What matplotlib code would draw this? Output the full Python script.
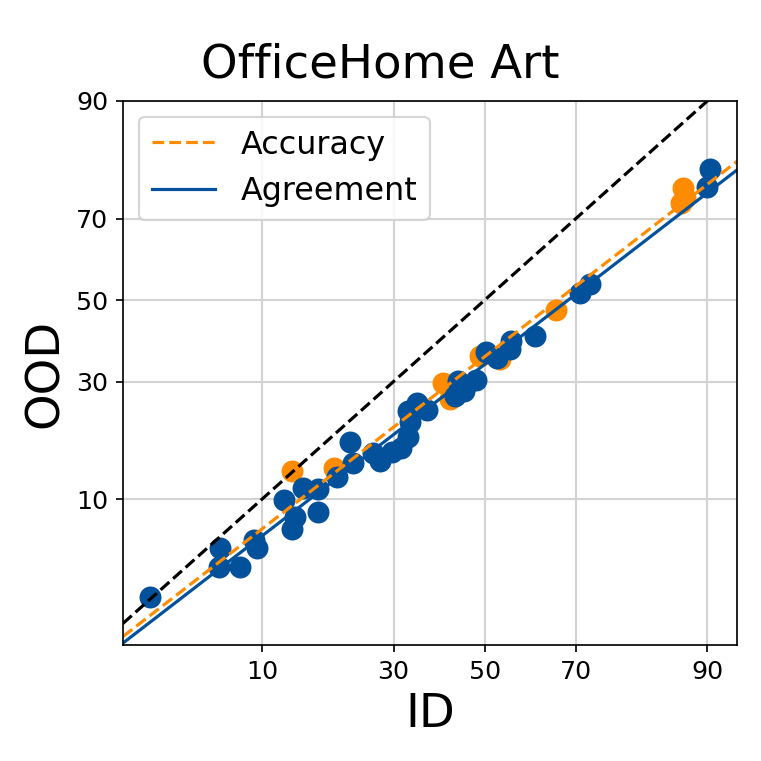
import numpy as np
import matplotlib
matplotlib.use("Agg")
import matplotlib.pyplot as plt
from statistics import NormalDist

# accuracy (ID %, OOD %)
acc_id = [13.4, 19.3, 40.5, 42.1, 48.9, 53.5, 65.9, 87.3, 87.1, 87.5]
acc_ood = [13.5, 14.0, 29.6, 26.2, 35.9, 35.2, 47.4, 76.4, 73.3, 74.5]

# agreement (ID %, OOD %)
agr_id = [2.7, 6.4, 6.3, 8.0, 9.2, 9.5, 12.4, 14.8, 16.9, 13.7, 13.4, 16.9,
          19.8, 21.9, 22.4, 26.0, 27.3, 29.7, 32.9, 34.8, 37.0, 33.4, 32.9,
          31.5, 43.2, 43.9, 45.7, 48.0, 45.3, 50.3, 52.8, 56.0, 55.8, 61.4,
          70.8, 72.8, 90.3, 90.0]
agr_ood = [2.8, 5.5, 4.3, 4.3, 6.1, 5.5, 9.9, 11.3, 11.2, 8.1, 7.0, 8.6,
           12.7, 18.0, 14.7, 16.2, 15.0, 16.4, 23.7, 25.3, 23.9, 21.6, 18.9,
           17.0, 26.8, 30.1, 29.2, 30.3, 27.9, 36.8, 35.4, 39.5, 37.6, 40.8,
           51.7, 54.0, 80.1, 76.6]

# linear fits in probit space (slope, intercept)
acc_fit = (0.8655, -0.364)
agr_fit = (0.8618, -0.414)

ticks = [10, 30, 50, 70, 90]
xlim = (1.87, 92.68)
ylim = (1.32, 90.0)

blue = '#03519b'
orange = '#ff8c00'

_nd = NormalDist()
_ppf = np.vectorize(_nd.inv_cdf, otypes=[float])
_cdf = np.vectorize(_nd.cdf, otypes=[float])


def probit(v):
    v = np.clip(np.asarray(v, dtype=float) / 100.0, 1e-7, 1 - 1e-7)
    return _ppf(v)


def inv_probit(z):
    return _cdf(np.asarray(z, dtype=float)) * 100.0


fig = plt.figure(figsize=(5, 5), dpi=152.2)
ax = fig.add_axes([0.1616, 0.1524, 0.8069, 0.7149])
ax.set_xscale('function', functions=(probit, inv_probit))
ax.set_yscale('function', functions=(probit, inv_probit))
ax.set_axisbelow(True)

ax.scatter(acc_id, acc_ood, s=108, color=orange, linewidths=0)
ax.scatter(agr_id, agr_ood, s=108, color=blue, linewidths=0)

ax.plot(xlim, xlim, 'k--', lw=1.5)
xs = np.array(xlim)
ax.plot(xs, inv_probit(acc_fit[0] * probit(xs) + acc_fit[1]), '--',
        color=orange, lw=1.5, label='Accuracy')
ax.plot(xs, inv_probit(agr_fit[0] * probit(xs) + agr_fit[1]), '-',
        color=blue, lw=1.5, label='Agreement')

ax.set_xlim(*xlim)
ax.set_ylim(*ylim)
ax.set_xticks(ticks)
ax.set_xticklabels([str(t) for t in ticks])
ax.set_yticks(ticks)
ax.set_yticklabels([str(t) for t in ticks])
ax.minorticks_off()
ax.tick_params(labelsize=12)
ax.grid(True, color='#d3d3d3', lw=1.0)

ax.set_xlabel('ID', fontsize=22)
ax.set_ylabel('OOD', fontsize=22)
fig.text(0.5, 1 - 77 / 761, 'OfficeHome Art', fontsize=22,
         ha='center', va='baseline')
ax.legend(loc='upper left', fontsize=15)

fig.savefig('out.png', dpi=152.2)
